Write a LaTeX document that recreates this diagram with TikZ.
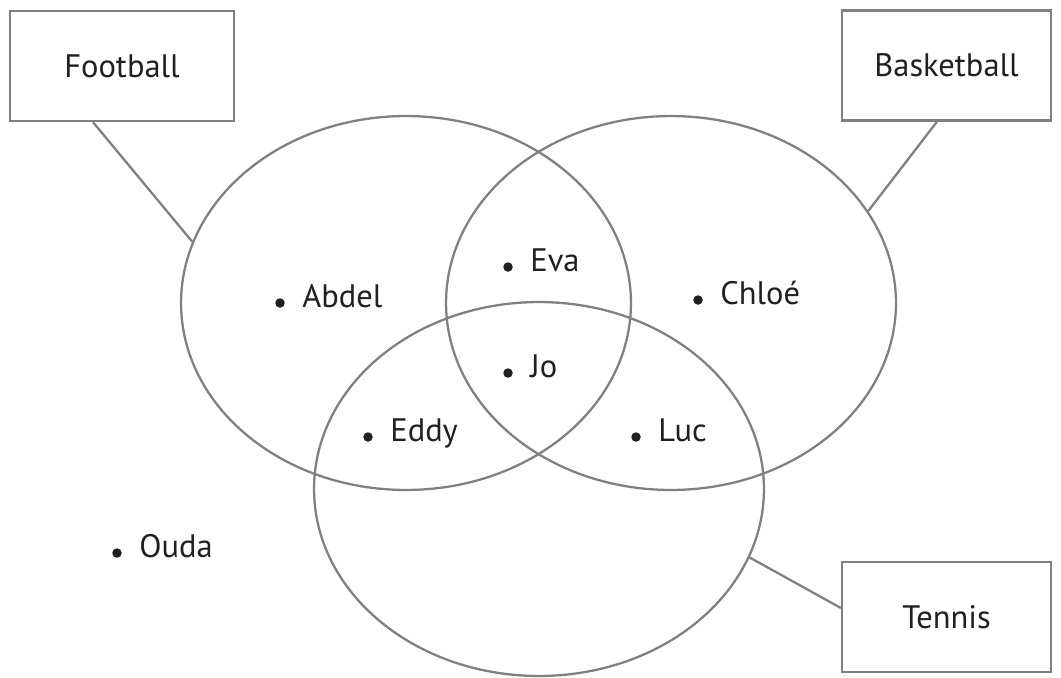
\documentclass[tikz,border=0pt]{standalone}
\usepackage{fontspec}
\setmainfont{PT Sans}
\usetikzlibrary{shapes.geometric}
\definecolor{venngray}{RGB}{128,128,128}
\definecolor{inkgray}{RGB}{35,31,32}

\begin{document}
\begin{tikzpicture}
[x=0.02cm, y=-0.02cm,%
  setDecorate/.style={shape=ellipse,draw=venngray,line width=1.3pt,inner sep=0pt,minimum width=9cm,minimum height=7.48cm},%
  boxDecorate/.style={shape=rectangle,draw=venngray,line width=1.3pt,inner sep=0pt,minimum height=2.2cm,text=inkgray,font=\fontsize{18.5}{20}\selectfont},%
  lineDecorate/.style={-,draw=venngray,line width=1.3pt},%
  dotDecorate/.style={shape=circle,fill=inkgray,inner sep=0pt,minimum size=0.19cm},%
  nameDecorate/.style={anchor=base west,inner sep=0pt,text=inkgray,font=\fontsize{18.5}{20}\selectfont}]
\useasboundingbox (0,0) rectangle (1061,677);
%% sets
\node (setF) at (406,303) [setDecorate] {};
\node (setB) at (671,303) [setDecorate] {};
\node (setT) at (539,489) [setDecorate] {};
%% titles
\node (football) at (122,66) [boxDecorate,minimum width=4.48cm] {Football};
\node (basketball) at (946.5,65.5) [boxDecorate,minimum width=4.18cm] {Basketball};
\node (tennis) at (946.5,617) [boxDecorate,minimum width=4.18cm] {Tennis};
%% pointers
\path
  ([xshift=-0.58cm]football.south) edge[lineDecorate] (setF.164)
  ([xshift=-0.19cm]basketball.south) edge[lineDecorate] (setB.25)
  (setT.-18) edge[lineDecorate] ([yshift=0.18cm]tennis.west);
%% members
\foreach \nodename/\who/\x/\y in {abdel/Abdel/280/303, eva/Eva/508/267, jo/Jo/508/373,
  eddy/Eddy/368/437, luc/Luc/636/437, chloe/Chloé/698/300, ouda/Ouda/117/553}
{
  \node (\nodename) at (\x,\y) [dotDecorate] {};
  \node (\nodename-name) at ([xshift=0.44cm,yshift=-0.08cm]\nodename) [nameDecorate] {\who};
}
\end{tikzpicture}
\end{document}
